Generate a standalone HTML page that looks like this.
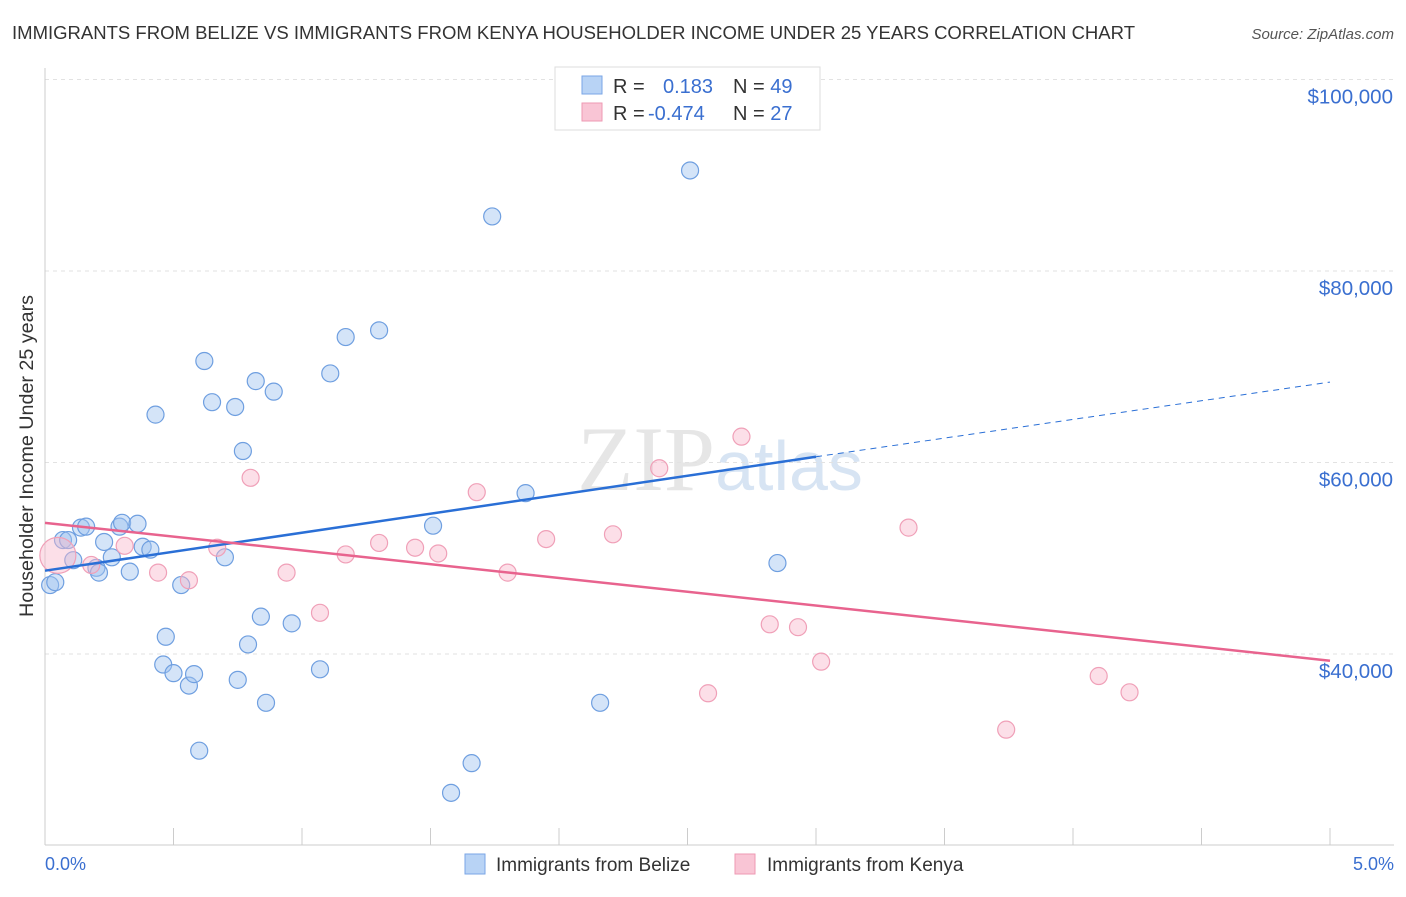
<!DOCTYPE html>
<html><head><meta charset="utf-8"><style>
body{margin:0;background:#fff;font-family:"Liberation Sans",sans-serif}
</style></head><body>
<svg width="1406" height="892" xmlns="http://www.w3.org/2000/svg">
<text x="12" y="39" font-size="18" fill="#333" textLength="1123" lengthAdjust="spacingAndGlyphs">IMMIGRANTS FROM BELIZE VS IMMIGRANTS FROM KENYA HOUSEHOLDER INCOME UNDER 25 YEARS CORRELATION CHART</text>
<text x="1394" y="39" font-size="15" fill="#555" font-style="italic" text-anchor="end">Source: ZipAtlas.com</text>
<text x="720" y="490" font-size="92" fill="#e6e6e6" text-anchor="middle" font-family="Liberation Serif,serif">ZIP<tspan fill="#d7e4f3" font-family="Liberation Sans,sans-serif" font-size="70">atlas</tspan></text>
<g id="grid"></g>
<line x1="45" y1="68" x2="45" y2="845" stroke="#ccc"/>
<line x1="45" y1="845" x2="1394" y2="845" stroke="#ccc"/>
<text transform="translate(33,456) rotate(-90)" font-size="19" fill="#333" text-anchor="middle" textLength="322" lengthAdjust="spacingAndGlyphs">Householder Income Under 25 years</text>
<text x="45" y="870" font-size="18" fill="#3a6fd0">0.0%</text>
<text x="1394" y="870" font-size="18" fill="#3a6fd0" text-anchor="end">5.0%</text>
<g id="marks"></g>
<g>
<rect x="555" y="67" width="265" height="63" fill="#fff" stroke="#ddd"/>
<rect x="582" y="76" width="20" height="18" fill="#b8d3f5" stroke="#7aa6e6"/>
<rect x="582" y="103" width="20" height="18" fill="#f9c5d5" stroke="#ee99b3"/>
<text x="613" y="93" font-size="20" fill="#333">R = <tspan fill="#3a6fd0" x="663">0.183</tspan><tspan x="733" fill="#333">N = </tspan><tspan fill="#3a6fd0">49</tspan></text>
<text x="613" y="120" font-size="20" fill="#333">R = <tspan fill="#3a6fd0" x="648">-0.474</tspan><tspan x="733" fill="#333">N = </tspan><tspan fill="#3a6fd0">27</tspan></text>
</g>
<g>
<rect x="465" y="854" width="20" height="20" fill="#b8d3f5" stroke="#7aa6e6"/>
<text x="496" y="871" font-size="19" fill="#333">Immigrants from Belize</text>
<rect x="735" y="854" width="20" height="20" fill="#f9c5d5" stroke="#ee99b3"/>
<text x="767" y="871" font-size="19" fill="#333">Immigrants from Kenya</text>
</g>
</svg>
<script>
const belizeX=[0.02,0.04,0.07,0.09,0.11,0.14,0.16,0.20,0.21,0.23,0.26,0.29,0.30,0.33,0.36,0.38,0.41,0.43,0.46,0.47,0.50,0.53,0.56,0.58,0.60,0.62,0.65,0.70,0.74,0.75,0.77,0.79,0.82,0.84,0.86,0.89,0.96,1.07,1.11,1.17,1.30,1.51,1.58,1.66,1.74,1.87,2.16,2.51,2.85];
const belizeY=[47200,47500,51900,51900,49800,53200,53300,49000,48500,51700,50100,53300,53700,48600,53600,51200,50900,65000,38900,41800,38000,47200,36700,37900,29900,70600,66300,50100,65800,37300,61200,41000,68500,43900,34900,67400,43200,38400,69300,73100,73800,53400,25500,28600,85700,56800,34900,90500,49500];
const kenyaX=[0.05,0.18,0.31,0.44,0.56,0.67,0.80,0.94,1.07,1.17,1.30,1.44,1.53,1.68,1.80,1.95,2.21,2.39,2.58,2.71,2.82,2.93,3.02,3.36,3.74,4.10,4.22];
const kenyaY=[50300,49300,51300,48500,47700,51100,58400,48500,44300,50400,51600,51100,50500,56900,48500,52000,52500,59400,35900,62700,43100,42800,39200,53200,32100,37700,36000];
const yTicks=[40000,60000,80000,100000];
const xTicks=[0,0.5,1,1.5,2,2.5,3,3.5,4,4.5,5];
const belizeTrend=[48700,60600,68400]; // at x=0, 3, 5
const kenyaTrend=[53700,39300]; // at x=0,5
const sx=v=>45+v/5*1285, sy=v=>654-(v-40000)*191.5/20000;
const NS='http://www.w3.org/2000/svg';
const grid=document.getElementById('grid'), marks=document.getElementById('marks');
function mk(p,tag,a){const e=document.createElementNS(NS,tag);for(const k in a)e.setAttribute(k,a[k]);p.appendChild(e);return e;}
yTicks.forEach(t=>{
 const l=mk(grid,'line',{x1:45,x2:1394,y1:sy(t),y2:sy(t),stroke:'#e2e2e2','stroke-dasharray':'4,4'});
 
 
 const tx=mk(grid,'text',{x:1393,y:sy(t)+24,'font-size':20.5,fill:'#3a6fd0','text-anchor':'end'});
 tx.textContent='$'+t.toLocaleString('en-US');
 
 
});
xTicks.forEach(t=>{
 const l=mk(grid,'line',{x1:sx(t),x2:sx(t),y1:828,y2:845,stroke:'#ccc'});
 
 
});
belizeX.forEach((x,i)=>{
 const c=mk(marks,'circle',{cx:sx(x),cy:sy(belizeY[i]),r:8.5,fill:'rgba(160,196,240,0.45)',stroke:'#6f9fe0','stroke-width':1.2});
 
 
});
kenyaX.forEach((x,i)=>{
 const c=mk(marks,'circle',{cx:sx(x),cy:sy(kenyaY[i]),r:i===0?18:8.5,fill:'rgba(248,185,205,0.45)',stroke:'#f0a0b8','stroke-width':1.2});
 
 
});
let l=mk(marks,'line',{x1:sx(0),y1:sy(belizeTrend[0]),x2:sx(3),y2:sy(belizeTrend[1]),stroke:'#2a6fd6','stroke-width':2.5});


l=mk(marks,'line',{x1:sx(3),y1:sy(belizeTrend[1]),x2:sx(5),y2:sy(belizeTrend[2]),stroke:'#2a6fd6','stroke-width':1,'stroke-dasharray':'6,5'});


l=mk(marks,'line',{x1:sx(0),y1:sy(kenyaTrend[0]),x2:sx(5),y2:sy(kenyaTrend[1]),stroke:'#e8638e','stroke-width':2.5});


</script>
</body></html>
